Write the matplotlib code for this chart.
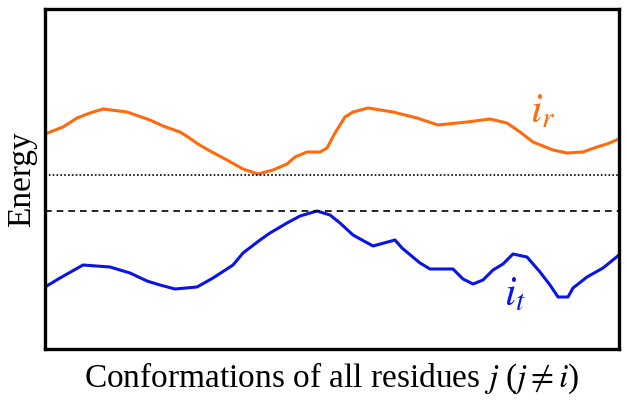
import numpy as np
import matplotlib.pyplot as plt

plt.rcParams['mathtext.fontset'] = 'stix'

# orange curve i_r (conformation index, energy)
r_x = [45, 63, 77, 90, 103, 127, 150, 163, 180, 188, 198, 210, 227, 243, 258, 273, 287, 295, 307, 320,
       327, 335, 345, 353, 368, 393, 417, 438, 467, 490, 507, 520, 533, 553, 567, 583, 597, 607, 619]
r_e = [215, 222, 231, 236, 240, 237, 229, 223, 217, 212, 205, 198, 189, 180, 175, 179, 185, 192, 197, 197,
       201, 216, 232, 237, 241, 237, 231, 224, 227, 230, 226, 217, 207, 199, 196, 197, 202, 205, 210]

# blue curve i_t
t_x = [45, 60, 83, 110, 130, 147, 160, 175, 197, 213, 233, 243, 260, 270, 287, 300, 317, 330, 340,
       353, 373, 395, 402, 420, 430, 453, 463, 473, 483, 493, 503, 513, 527, 540, 550, 558, 568, 573,
       587, 603, 619]
t_e = [62, 71, 84, 82, 76, 68, 64, 60, 62, 71, 84, 96, 109, 116, 126, 133, 138, 134, 126,
       114, 103, 109, 101, 86, 80, 80, 70, 65, 69, 79, 85, 95, 92, 77, 64, 52, 52, 61,
       72, 81, 94]

dotted_e = 174
dashed_e = 138

fig = plt.figure(figsize=(6.29, 4.03), dpi=100)
ax = fig.add_axes([45/629, 54/403, 574/629, 340/403])

ax.plot(r_x, r_e, color='#ff6a0d', lw=2.2, solid_joinstyle='round')
ax.plot(t_x, t_e, color='#0a14e6', lw=2.2, solid_joinstyle='round')
ax.axhline(dotted_e, color='black', ls=(0, (1, 1.3)), lw=1.2)
ax.axhline(dashed_e, color='black', ls=(0, (4, 3)), lw=1.2)

ax.text(543, 227, r'$i_r$', color='#ff6a0d', fontsize=30, ha='center')
ax.text(515, 44, r'$i_t$', color='#0a14e6', fontsize=30, ha='center')

ax.set_xlim(45, 619)
ax.set_ylim(0, 340)
ax.set_xticks([])
ax.set_yticks([])
for s in ax.spines.values():
    s.set_linewidth(2.4)

ax.set_xlabel(r'Conformations of all residues $j$ ($j \neq i$)', family='Liberation Serif', fontsize=24, labelpad=8)
ax.set_ylabel('Energy', family='Liberation Serif', fontsize=24, labelpad=6)

fig.savefig('out.png', dpi=100)
